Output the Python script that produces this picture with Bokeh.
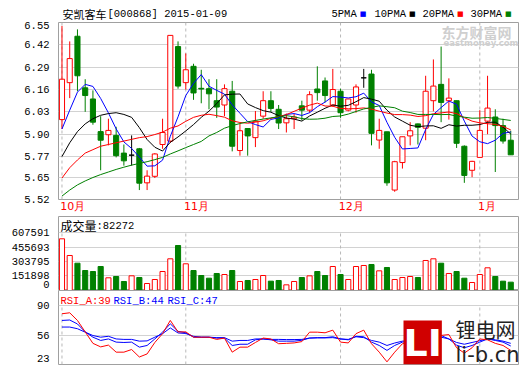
from bokeh.plotting import figure
from bokeh.layouts import column
from bokeh.models import (Range1d, Label, FixedTicker, ColumnDataSource,
                          PrintfTickFormatter, NumeralTickFormatter)
from bokeh.embed import file_html
from bokeh.resources import INLINE

# ---------------- data ----------------
opens = [5.985, 6.20, 6.47, 6.17, 6.105, 5.915, 5.897, 5.893, 5.79, 5.778,
         5.815, 5.617, 5.655, 5.84, 5.86, 6.41, 6.20, 6.295, 6.167, 6.165,
         6.095, 6.07, 6.15, 5.805, 5.933, 5.88, 6.005, 6.095, 6.045, 5.966,
         5.99, 6.065, 6.04, 6.163, 6.21, 6.07, 6.15, 6.04, 6.07, 6.228,
         6.25, 5.866, 5.914, 5.575, 5.735, 5.89, 5.96, 5.935, 6.095, 6.19,
         6.095, 6.095, 5.83, 5.69, 5.765, 5.976, 6.0, 5.95, 5.865]
highs = [6.53, 6.44, 6.51, 6.22, 6.155, 6.005, 5.99, 5.943, 5.84, 5.893,
         5.82, 5.69, 5.79, 5.99, 6.475, 6.44, 6.37, 6.31, 6.275, 6.22,
         6.22, 6.19, 6.21, 5.96, 5.935, 6.035, 6.15, 6.15, 6.07, 6.02,
         6.02, 6.095, 6.15, 6.295, 6.23, 6.28, 6.165, 6.105, 6.19, 6.28,
         6.275, 5.99, 5.914, 5.745, 5.885, 5.97, 5.962, 6.24, 6.335, 6.41,
         6.225, 6.095, 5.835, 5.745, 6.04, 6.24, 6.045, 5.99, 5.92]
lows = [5.93, 6.11, 6.15, 6.03, 5.955, 5.69, 5.835, 5.765, 5.717, 5.717,
        5.575, 5.575, 5.645, 5.815, 5.85, 6.165, 6.16, 6.10, 6.08, 6.045,
        5.995, 6.005, 5.80, 5.775, 5.775, 5.825, 5.99, 6.03, 5.93, 5.91,
        5.93, 5.98, 6.025, 6.095, 6.085, 6.06, 5.995, 6.033, 6.025, 6.17,
        5.835, 5.815, 5.60, 5.565, 5.70, 5.835, 5.84, 5.865, 6.033, 5.97,
        5.985, 5.82, 5.617, 5.65, 5.765, 5.90, 5.68, 5.845, 5.78]
closes = [6.22, 6.34, 6.24, 6.125, 5.97, 5.865, 5.922, 5.775, 5.745, 5.778,
          5.615, 5.656, 5.785, 5.91, 6.475, 6.18, 6.275, 6.14, 6.163, 6.135,
          6.058, 6.165, 5.83, 5.92, 5.89, 5.975, 6.095, 6.05, 5.965, 5.99,
          6.00, 6.04, 6.13, 6.142, 6.125, 6.16, 6.025, 6.105, 6.175, 6.228,
          5.905, 5.922, 5.617, 5.74, 5.885, 5.92, 5.94, 6.15, 6.18, 6.085,
          6.11, 5.847, 5.66, 5.742, 5.922, 6.052, 5.95, 5.86, 5.78]
volumes = [541600, 366700, 286000, 209500, 199000, 251400, 133000, 146700,
           94300, 154000, 136200, 73300, 115200, 199000, 332100, 471400,
           279700, 209500, 157100, 128900, 178100, 167600, 209500, 94300,
           104800, 115200, 157100, 97800, 104800, 59400, 94300, 136200,
           153600, 199000, 157100, 251400, 167600, 115200, 251400, 261900,
           272400, 206000, 241000, 115200, 136200, 146700, 136200, 314300,
           332100, 286000, 178100, 199000, 128900, 83800, 167600, 237800,
           146700, 97800, 87300]
latest_volume = 82272
ma5 = [5.93, 6.04, 6.145, 6.19, 6.178, 6.108, 6.024, 5.931, 5.855, 5.817,
       5.767, 5.714, 5.716, 5.749, 5.888, 6.001, 6.125, 6.196, 6.247, 6.179,
       6.155, 6.133, 6.071, 6.022, 5.973, 5.956, 5.942, 5.986, 5.995, 6.015,
       6.02, 6.009, 6.025, 6.06, 6.087, 6.119, 6.116, 6.111, 6.118, 6.139,
       6.088, 6.067, 5.969, 5.882, 5.814, 5.817, 5.82, 5.927, 6.015, 6.055,
       6.093, 6.074, 5.976, 5.889, 5.856, 5.845, 5.865, 5.905, 5.913]
ma10 = [5.77, 5.85, 5.915, 5.96, 5.99, 6.01, 6.02, 6.025, 6.015, 5.998,
        5.938, 5.869, 5.824, 5.802, 5.853, 5.884, 5.919, 5.956, 5.998, 6.034,
        6.078, 6.129, 6.133, 6.134, 6.076, 6.055, 6.037, 6.028, 6.008, 5.994,
        5.988, 5.976, 6.006, 6.028, 6.051, 6.07, 6.063, 6.068, 6.089, 6.113,
        6.104, 6.092, 6.04, 6.0, 5.976, 5.952, 5.944, 5.948, 5.949, 5.934,
        5.955, 5.947, 5.952, 5.952, 5.956, 5.969, 5.97, 5.941, 5.901]
ma20 = [5.645, 5.705, 5.75, 5.79, 5.81, 5.83, 5.84, 5.85, 5.86, 5.87,
        5.88, 5.886, 5.898, 5.912, 5.935, 5.948, 5.975, 5.998, 6.01, 6.016,
        6.008, 5.999, 5.978, 5.968, 5.964, 5.97, 5.978, 5.992, 6.003, 6.014,
        6.033, 6.052, 6.069, 6.081, 6.064, 6.063, 6.05, 6.048, 6.049, 6.053,
        6.046, 6.034, 6.023, 6.014, 6.014, 6.011, 6.003, 6.008, 6.019, 6.024,
        6.029, 6.02, 5.996, 5.976, 5.966, 5.961, 5.957, 5.945, 5.925]
ma30 = [5.54, 5.575, 5.605, 5.628, 5.648, 5.665, 5.68, 5.695, 5.708, 5.72,
        5.73, 5.74, 5.752, 5.765, 5.785, 5.803, 5.822, 5.84, 5.858, 5.89,
        5.91, 5.935, 5.95, 5.962, 5.972, 5.98, 5.988, 5.995, 6.002, 6.008,
        6.001, 5.991, 5.987, 5.988, 5.993, 6.003, 6.006, 6.017, 6.032, 6.047,
        6.056, 6.065, 6.06, 6.054, 6.034, 6.026, 6.015, 6.015, 6.015, 6.014,
        6.015, 6.005, 5.999, 5.993, 5.994, 5.997, 5.992, 5.986, 5.98]
rsi_a = [80.6, 81.7, 73, 60, 47, 43, 45, 37, 37, 40,
         31.5, 35, 48, 58, 73, 60, 60, 54, 54, 54,
         51.5, 53, 37, 42.7, 42.7, 48, 53, 52, 46.6, 47,
         47.5, 49, 59.7, 59.7, 59, 62, 48.4, 47.5, 58, 62,
         46.6, 37, 26, 37, 46.6, 49, 51, 60, 65.5, 56,
         57, 42, 36, 42, 52, 51, 47, 44.6, 39]
rsi_b = [73, 73.5, 69, 60, 54, 50.3, 52, 48.4, 48, 48.4,
         42.7, 44.6, 52, 59.7, 69.2, 60.6, 59, 54, 54, 54,
         53, 53, 44.6, 46, 46, 51, 52, 51, 49.5, 49.5,
         49.5, 50.5, 53, 53.5, 53.5, 54.5, 52, 51, 55, 54.5,
         48.4, 44.6, 39, 44.6, 48.4, 49.5, 51, 54, 59.7, 55.9,
         52, 45, 42, 44.6, 48.4, 52, 50.3, 48.4, 44]
rsi_c = [65.5, 65.5, 63.6, 59.7, 55.9, 54, 55, 52, 51.5, 51.5,
         49.5, 49.8, 54, 58, 64.5, 58.8, 58.2, 55, 54, 54,
         53.5, 53.5, 49.5, 50.3, 50.3, 52, 52, 51.5, 51.5, 51.3,
         51.3, 51.5, 53, 53.2, 53.2, 53.5, 52, 51.5, 54.5, 53.5,
         50.3, 48.4, 44.6, 47.4, 49.5, 50.3, 51, 53.5, 57, 54,
         52, 48, 46, 48, 50, 52, 51, 49.5, 47]
month_idx = [0, 16, 36, 54]
month_labels = ["10月", "11月", "12月", "1月"]
price_ticks = [5.52, 5.65, 5.77, 5.90, 6.03, 6.16, 6.29, 6.42, 6.55]
vol_ticks = [0, 151898, 303795, 455693, 607591]
rsi_ticks = [23, 56, 90]
ma_names = ["5PMA", "10PMA", "20PMA", "30PMA"]

# ---------------- styling ----------------
RED, GREEN, BLUE, BLACK = "#ff0000", "#008000", "#0000ff", "#000000"
GRID, FRAME, DASH = "#d2d2d2", "#a0a0a0", "#b8b8b8"
MONO, CJK = "Liberation Mono", "Noto Sans CJK SC"
W, LB, RB = 520, 58, 2
X0, X1 = -0.45, 59.0
PX_PER_UNIT = (W - LB - RB) / (X1 - X0)

n = len(closes)
xs = list(range(n))
ccol = [RED if c > o else (GREEN if c < o else BLACK) for o, c in zip(opens, closes)]
cfill = ["white" if c > o else col for o, c, col in zip(opens, closes, ccol)]
vup = [c >= o for o, c in zip(opens, closes)]
src = ColumnDataSource(dict(
    x=xs, o=opens, h=highs, l=lows, c=closes,
    top=[max(o, c) for o, c in zip(opens, closes)],
    bot=[min(o, c) for o, c in zip(opens, closes)],
    col=ccol, fill=cfill, vol=volumes,
    vcol=[RED if u else GREEN for u in vup],
    vfill=["white" if u else GREEN for u in vup],
    ma5=ma5, ma10=ma10, ma20=ma20, ma30=ma30,
    ra=rsi_a, rb=rsi_b, rc=rsi_c))

xr = Range1d(X0, X1)


def strip(height):
    """A text-only row: no axes, no outline, frame = x span of the panels."""
    p = figure(width=W, height=height, x_range=xr, y_range=Range1d(0, 1),
               output_backend="svg", toolbar_location=None,
               x_axis_location=None, y_axis_location=None,
               min_border_left=LB, min_border_right=RB,
               min_border_top=0, min_border_bottom=0)
    p.outline_line_color = None
    p.background_fill_color = "white"
    p.border_fill_color = "white"
    for g in p.grid:
        g.visible = False
    return p


def base(height, yr, ticks, fmt, top, bottom, label_ticks=None, overrides=None,
         xaxis=False):
    p = figure(width=W, height=height, x_range=xr, y_range=yr,
               output_backend="svg", toolbar_location=None,
               x_axis_location="below" if xaxis else None,
               min_border_left=LB, min_border_right=RB,
               min_border_top=top, min_border_bottom=bottom)
    p.outline_line_color = FRAME
    p.background_fill_color = "white"
    p.border_fill_color = "white"
    ya = p.yaxis[0]
    ya.ticker = FixedTicker(ticks=label_ticks if label_ticks else ticks)
    ya.formatter = fmt
    if overrides:
        ya.major_label_overrides = overrides
    ya.major_tick_line_color = None
    ya.minor_tick_line_color = None
    ya.axis_line_color = None
    ya.major_label_standoff = 3
    ya.major_label_text_font = MONO
    ya.major_label_text_font_size = "10.5px"
    ya.major_label_text_color = BLACK
    p.ygrid.ticker = FixedTicker(ticks=ticks)
    p.ygrid.grid_line_color = GRID
    p.xgrid.visible = False
    return p


def label(p, x, y, text, color=BLACK, size="11px", font=MONO, x_units="screen", **kw):
    p.add_layout(Label(x=x, y=y, x_units=x_units, y_units="screen", text=text,
                       text_color=color, text_font_size=size, text_font=font,
                       text_baseline="middle", **kw))


# ---------------- title row (page y 0..21) ----------------
p0 = strip(21)
label(p0, 4, 8, "安凯客车", size="11px", font=CJK)
label(p0, 49, 8, "[000868] 2015-01-09", size="10.5px")
for name, colr, lx in zip(ma_names, [BLUE, BLACK, RED, GREEN], [273, 316, 364, 412]):
    label(p0, lx, 8, name, size="10.5px")
    label(p0, lx + 6.3 * len(name) + 3, 8, "■", color=colr, size="7px", font="DejaVu Sans")

# ---------------- price panel (frame 22..201, month axis below) ----------------
p1 = base(194, Range1d(price_ticks[0], price_ticks[-1]), price_ticks,
          PrintfTickFormatter(format="%.2f"), 1, 14, xaxis=True)
# month names start just left of their dashed line: shift each centred tick label
# right by half its width (digits ~7px, 月 ~11px)
month_tick_pos = [m + (0.5 * (7 * (len(t) - 1) + 11) - 1.8) / PX_PER_UNIT
                  for m, t in zip(month_idx, month_labels)]
xa = p1.xaxis[0]
xa.ticker = FixedTicker(ticks=month_tick_pos)
xa.major_label_overrides = {pos: t for pos, t in zip(month_tick_pos, month_labels)}
xa.major_label_text_color = RED
xa.major_label_text_font = "DejaVu Sans"
xa.major_label_text_font_size = "11px"
xa.major_label_standoff = 0
xa.major_tick_line_color = None
xa.major_tick_out = 0
xa.major_tick_in = 0
xa.minor_tick_line_color = None
xa.axis_line_color = None

p1.segment(x0=month_idx, x1=month_idx, y0=[price_ticks[0]] * 4, y1=[price_ticks[-1]] * 4,
           line_color=DASH, line_dash="3 3", line_width=1)
p1.segment(x0="x", y0="h", x1="x", y1="l", line_color="col", line_width=1, source=src)
p1.vbar(x="x", width=0.66, top="top", bottom="bot", fill_color="fill",
        line_color="col", line_width=1, source=src)
for key, colr in zip(["ma5", "ma10", "ma20", "ma30"], [BLUE, BLACK, RED, GREEN]):
    p1.line("x", key, line_color=colr, line_width=1, source=src)
# watermark
label(p1, 383, 168, "东方财富网", color="#cfcfcf", size="14px", font=CJK, text_font_style="bold")
label(p1, 385, 157, "eastmoney.com", color="#cfcfcf", size="8.5px", font="DejaVu Sans",
      text_font_style="bold")

# ---------------- volume panel (frame 216..290) ----------------
vtop = vol_ticks[-1] * 74 / 58
vzero_lab = 62000  # the "0" label sits a few pixels above the panel floor
p2 = base(75, Range1d(0, vtop), vol_ticks, NumeralTickFormatter(format="0"), 1, 0,
          label_ticks=[vzero_lab] + vol_ticks[1:], overrides={vzero_lab: "0"})
p2.segment(x0=month_idx, x1=month_idx, y0=[0] * 4, y1=[vol_ticks[-1]] * 4,
           line_color=DASH, line_dash="3 3", line_width=1)
p2.vbar(x="x", width=0.66, top="vol", bottom=0, fill_color="vfill",
        line_color="vcol", line_width=1, source=src)
label(p2, 2, 65, "成交量", size="12px", font=CJK)
label(p2, 38, 65, ":%d" % latest_volume, size="10.5px")

# ---------------- RSI panel (frame 290..364) ----------------
rzero_lab = 30  # the "23" label sits a few pixels above the panel floor
p3 = base(75, Range1d(rsi_ticks[0], 107), rsi_ticks, NumeralTickFormatter(format="0"), 0, 1,
          label_ticks=[rzero_lab] + rsi_ticks[1:], overrides={rzero_lab: str(rsi_ticks[0])})
p3.segment(x0=month_idx, x1=month_idx, y0=[rsi_ticks[0]] * 4, y1=[rsi_ticks[-1]] * 4,
           line_color=DASH, line_dash="3 3", line_width=1)
p3.line("x", "rc", line_color=BLUE, line_width=1, source=src)
p3.line("x", "rb", line_color=BLUE, line_width=1, source=src)
p3.line("x", "ra", line_color=RED, line_width=1, source=src)
label(p3, 2, 64, "RSI_A:%d" % round(rsi_a[-1]), color=RED, size="10.5px")
label(p3, 55, 64, "RSI_B:%d" % round(rsi_b[-1]), color=BLUE, size="10.5px")
label(p3, 109, 64, "RSI_C:%d" % round(rsi_c[-1]), color=BLUE, size="10.5px")
# li-b.cn watermark
label(p3, 345, 22, "LI", color="white", size="38px", font="DejaVu Sans",
      text_font_style="bold", background_fill_color="#d00000")
label(p3, 397, 35, "锂电网", color="#222222", size="20px", font=CJK)
label(p3, 397, 10, "li-b.cn", color="#222222", size="21px", font="DejaVu Sans")

layout = column(p0, p1, p2, p3, spacing=0)
open("out.html", "w").write(file_html(layout, INLINE))
